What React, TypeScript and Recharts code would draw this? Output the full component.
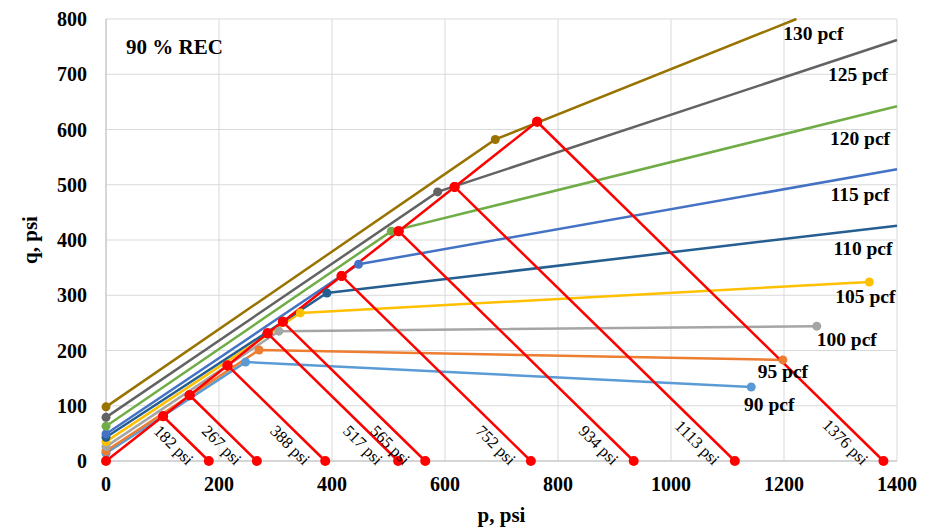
import { LineChart, Line, XAxis, YAxis, CartesianGrid } from "recharts";

// density series (90..130 pcf): start at p=0, break point, end
const densityLabels = ["90 pcf", "95 pcf", "100 pcf", "105 pcf", "110 pcf", "115 pcf", "120 pcf", "125 pcf", "130 pcf"];
const startQ = [14, 18, 26, 35, 43, 49, 63, 79, 98];
const breakP = [247, 271, 306, 344, 391, 447, 505, 587, 689];
const breakQ = [179, 201, 235, 268, 304, 356, 416, 487, 582];
const endP = [1142, 1198, 1258, 1351, 1400, 1400, 1400, 1400, 1222];
const endQ = [134, 183, 244, 324, 426, 528, 642, 762, 800];

// red stress paths
const pathEnds = [182, 267, 388, 517, 565, 752, 934, 1113, 1376];
const failureP = [101, 148, 215, 286, 313, 417, 518, 617, 763];
const failureQ = [81, 119, 173, 231, 252, 335, 416, 496, 614];

const xTicks = [0, 200, 400, 600, 800, 1000, 1200, 1400];
const yTicks = [0, 100, 200, 300, 400, 500, 600, 700, 800];

const colors = ["#5B9BD5", "#ED7D31", "#A5A5A5", "#FFC000", "#255E91", "#4472C4", "#70AD47", "#636363", "#997300"];
// label offsets from last point (center of text)
const labelOffsets = [
    [18, 18], [0, 12], [30, 13], [-4, 15], [-34, 23], [-37, 25], [-37, 32], [-39, 35], [17, 14],
];
const endDot = [true, true, true, true, false, false, false, false, false];

const serif = "'Liberation Serif', 'Times New Roman', serif";

const densitySeries = densityLabels.map((name, i) => ({
    name,
    color: colors[i],
    data: [
        { p: 0, q: startQ[i] },
        { p: breakP[i], q: breakQ[i] },
        { p: endP[i], q: endQ[i] },
    ],
}));

const envelope = [{ p: 0, q: 0 }, ...failureP.map((p, i) => ({ p, q: failureQ[i] }))];
const paths = pathEnds.map((e, i) => ({
    label: `${e} psi`,
    data: [
        { p: failureP[i], q: failureQ[i] },
        { p: e, q: 0 },
    ],
}));

export default function App() {
    return (
        <div style={{ position: "absolute", left: 0, top: 0, background: "#fff" }}>
            <LineChart width={925} height={528} margin={{ top: 19, right: 28, bottom: 0, left: 0 }}>
                <CartesianGrid stroke="#d9d9d9" strokeWidth={1} />
                <XAxis
                    type="number"
                    dataKey="p"
                    domain={[0, 1400]}
                    ticks={xTicks}
                    height={67}
                    axisLine={{ stroke: "#bfbfbf" }}
                    tickLine={false}
                    tickMargin={10}
                    tick={{ fill: "#000", fontSize: 20, fontWeight: "bold", fontFamily: serif }}
                    label={{
                        value: "p, psi",
                        position: "insideBottom",
                        offset: 6,
                        style: { fill: "#000", fontSize: 21, fontWeight: "bold", fontFamily: serif },
                    }}
                />
                <YAxis
                    type="number"
                    domain={[0, 800]}
                    ticks={yTicks}
                    width={106}
                    axisLine={{ stroke: "#bfbfbf" }}
                    tickLine={false}
                    tickMargin={13}
                    tick={{ fill: "#000", fontSize: 20, fontWeight: "bold", fontFamily: serif }}
                    label={{
                        value: "q, psi",
                        angle: -90,
                        position: "insideLeft",
                        offset: 30,
                        style: { fill: "#000", fontSize: 21, fontWeight: "bold", fontFamily: serif, textAnchor: "middle" },
                    }}
                />
                {densitySeries.map((s, i) => (
                    <Line
                        key={s.name}
                        data={s.data}
                        dataKey="q"
                        stroke={s.color}
                        strokeWidth={2.5}
                        isAnimationActive={false}
                        dot={(props: any) =>
                            props.index < 2 || endDot[i] ? (
                                <circle key={props.index} cx={props.cx} cy={props.cy} r={4.5} fill={s.color} />
                            ) : (
                                <g key={props.index} />
                            )
                        }
                        label={(props: any) =>
                            props.index === 2 ? (
                                <text
                                    key="lbl"
                                    x={props.x + labelOffsets[i][0]}
                                    y={props.y + labelOffsets[i][1]}
                                    textAnchor="middle"
                                    dominantBaseline="central"
                                    fontFamily={serif}
                                    fontWeight="bold"
                                    fontSize={19.5}
                                    fill="#000"
                                >
                                    {s.name}
                                </text>
                            ) : (
                                <g key={props.index} />
                            )
                        }
                    />
                ))}
                {paths.map((s) => (
                    <Line
                        key={s.label}
                        data={s.data}
                        dataKey="q"
                        stroke="#ff0000"
                        strokeWidth={2.5}
                        isAnimationActive={false}
                        dot={{ r: 5, fill: "#ff0000", stroke: "#ff0000", strokeWidth: 0 }}
                        label={(props: any) =>
                            props.index === 1 ? (
                                <text
                                    key="lbl"
                                    x={props.x - 22}
                                    y={props.y + 5}
                                    textAnchor="end"
                                    transform={`rotate(45, ${props.x - 22}, ${props.y + 5})`}
                                    fontFamily={serif}
                                    fontSize={16.5}
                                    fill="#000"
                                >
                                    {s.label}
                                </text>
                            ) : (
                                <g key={props.index} />
                            )
                        }
                    />
                ))}
                <Line
                    data={envelope}
                    dataKey="q"
                    stroke="#ff0000"
                    strokeWidth={2.5}
                    isAnimationActive={false}
                    dot={{ r: 5, fill: "#ff0000", stroke: "#ff0000", strokeWidth: 0 }}
                />
                <text x={126} y={47} dominantBaseline="central" fontFamily={serif} fontWeight="bold" fontSize={21} fill="#000">
                    90 % REC
                </text>
            </LineChart>
        </div>
    );
}
